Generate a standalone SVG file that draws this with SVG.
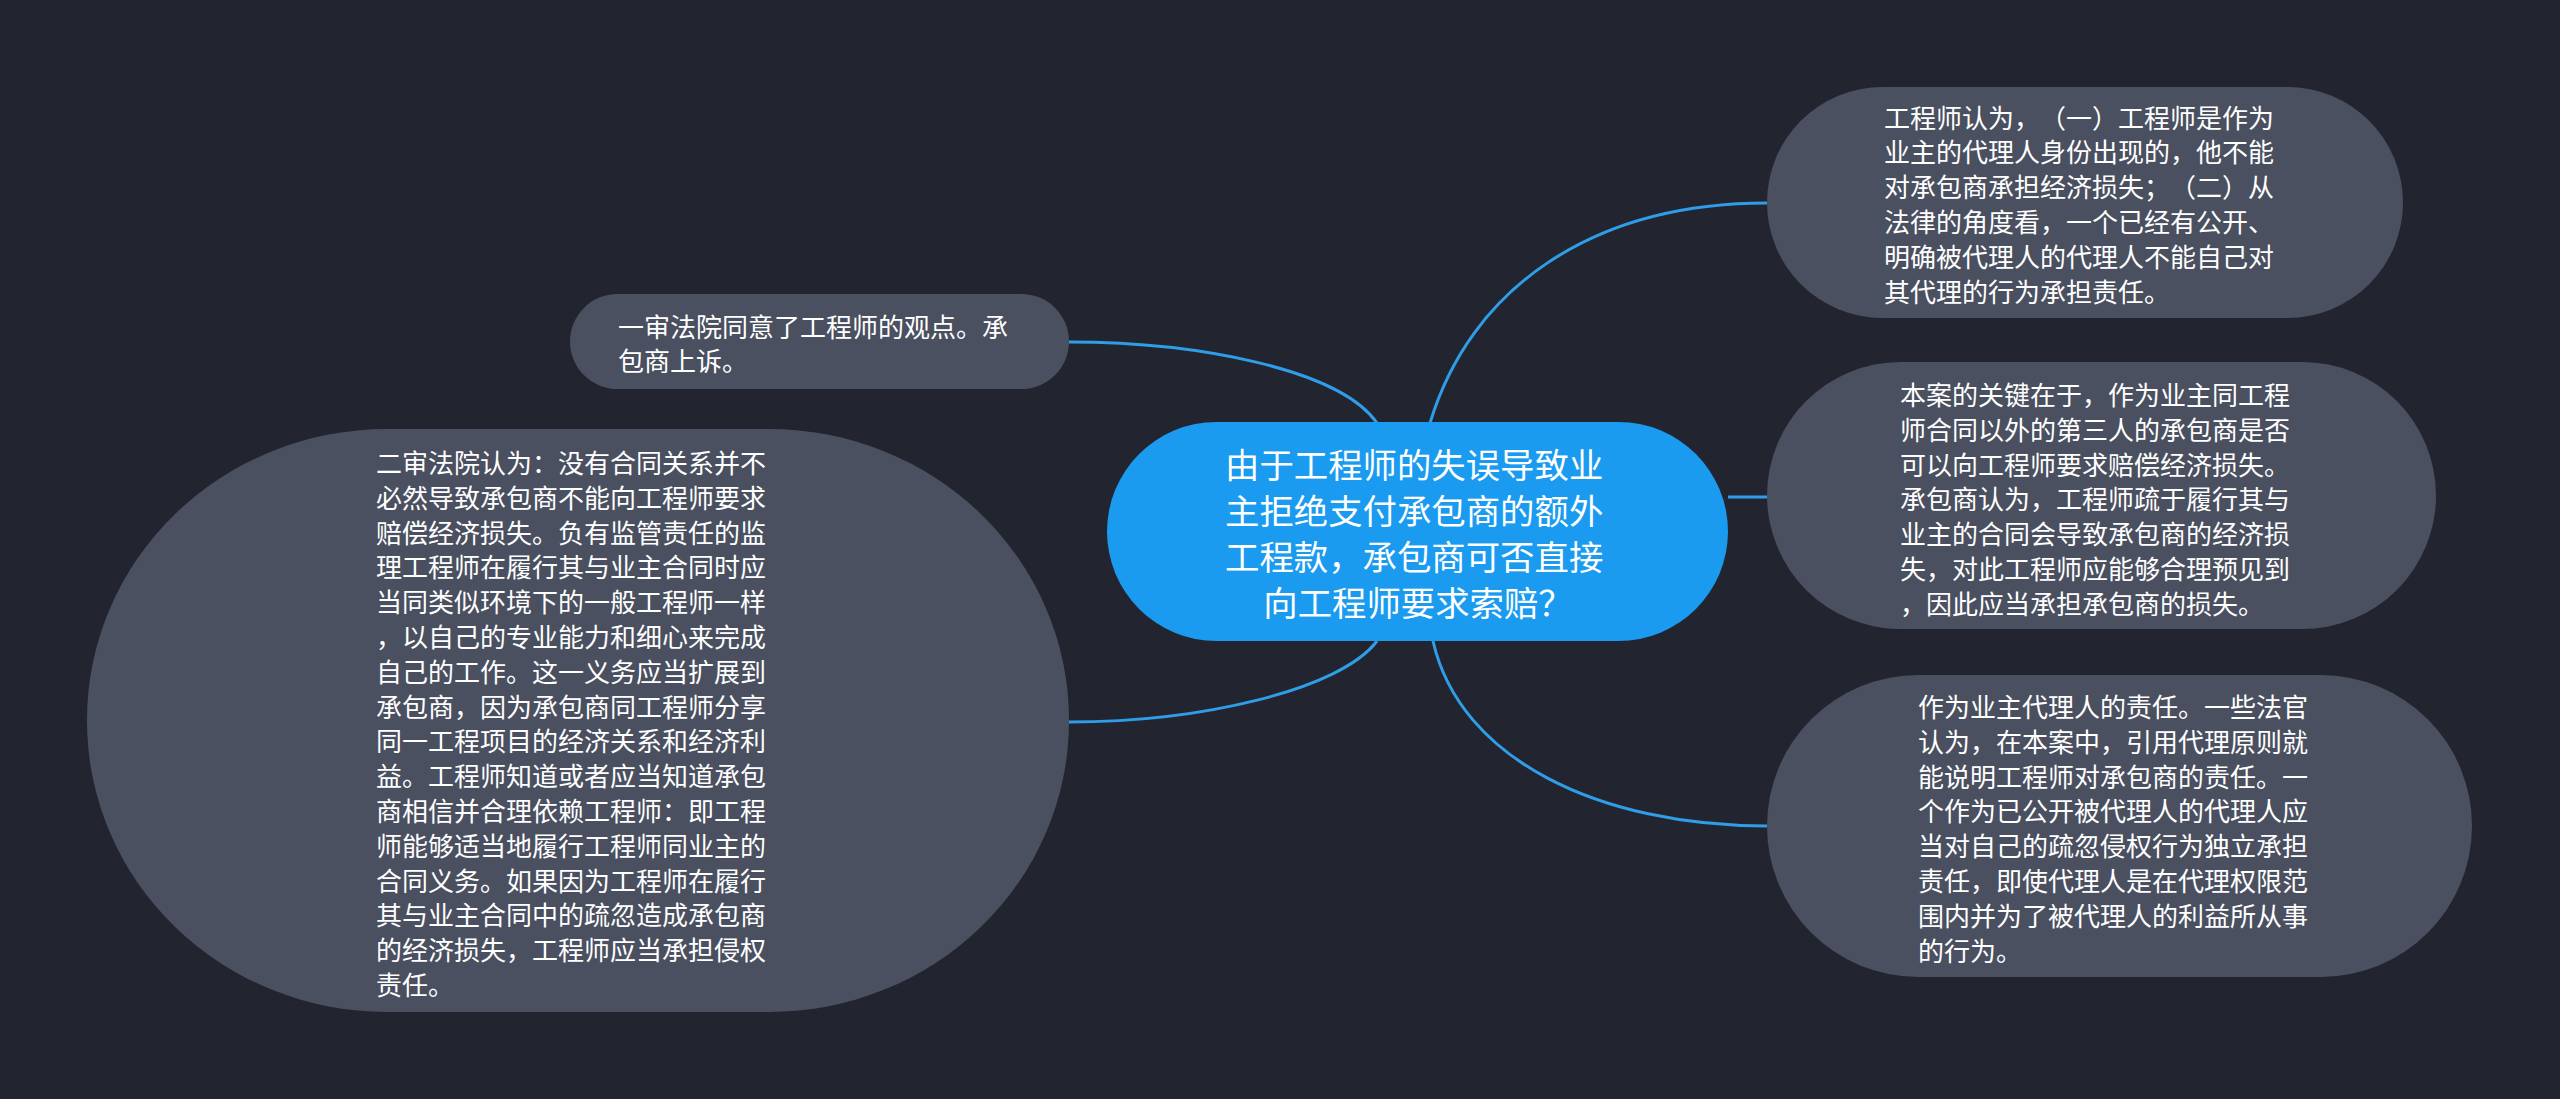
<svg xmlns="http://www.w3.org/2000/svg" width="2560" height="1099" viewBox="0 0 2560 1099">
<style>
.bg{fill:#222530}
.node{fill:#4a5060}
.root{fill:#1a9bf0}
.t{font-family:"Noto Sans CJK SC","Noto Sans",sans-serif;fill:#ffffff;font-size:26px;text-spacing-trim:space-all}
.rt{font-family:"Noto Sans CJK SC","Noto Sans",sans-serif;fill:#ffffff;font-size:34.4px;text-spacing-trim:space-all}
.edge{fill:none;stroke:#2f9de8;stroke-width:3}
</style>
<rect class="bg" x="0" y="0" width="2560" height="1099"/>
<g id="connectors">
<path class="edge" d="M1430,423 C1470,290 1590,203 1767,203"/>
<path class="edge" d="M1728,497 L1767,497"/>
<path class="edge" d="M1433,641 C1460,760 1600,826 1767,826"/>
<path class="edge" d="M1377,423 C1340,370 1200,342 1069,342"/>
<path class="edge" d="M1377,641 C1340,690 1200,722 1069,722"/>
</g>
<g id="root">
<rect class="root" x="1107" y="422" width="621" height="219" rx="109.5" ry="109.5"/>
<text class="rt" text-anchor="middle" x="1418" y="478">
<tspan x="1418" y="478">由于工程师的失误导致业</tspan>
<tspan x="1418" y="524">主拒绝支付承包商的额外</tspan>
<tspan x="1418" y="570">工程款，承包商可否直接</tspan>
<tspan x="1418" y="616">向工程师要求索赔？</tspan>
</text>
</g>
<g id="node-r1">
<rect class="node" x="1767" y="87" width="636" height="231" rx="115.5" ry="115.5"/>
<text class="t" x="1884" y="127.5">
<tspan x="1884" y="127.5">工程师认为，（一）工程师是作为</tspan>
<tspan x="1884" dy="34.8">业主的代理人身份出现的，他不能</tspan>
<tspan x="1884" dy="34.8">对承包商承担经济损失；（二）从</tspan>
<tspan x="1884" dy="34.8">法律的角度看，一个已经有公开、</tspan>
<tspan x="1884" dy="34.8">明确被代理人的代理人不能自己对</tspan>
<tspan x="1884" dy="34.8">其代理的行为承担责任。</tspan>
</text>
</g>
<g id="node-r2">
<rect class="node" x="1767" y="362" width="669" height="267" rx="133.5" ry="133.5"/>
<text class="t" x="1900" y="405">
<tspan x="1900" y="405">本案的关键在于，作为业主同工程</tspan>
<tspan x="1900" dy="34.8">师合同以外的第三人的承包商是否</tspan>
<tspan x="1900" dy="34.8">可以向工程师要求赔偿经济损失。</tspan>
<tspan x="1900" dy="34.8">承包商认为，工程师疏于履行其与</tspan>
<tspan x="1900" dy="34.8">业主的合同会导致承包商的经济损</tspan>
<tspan x="1900" dy="34.8">失，对此工程师应能够合理预见到</tspan>
<tspan x="1900" dy="34.8">，因此应当承担承包商的损失。</tspan>
</text>
</g>
<g id="node-r3">
<rect class="node" x="1767" y="675" width="705" height="302" rx="151" ry="151"/>
<text class="t" x="1918" y="717">
<tspan x="1918" y="717">作为业主代理人的责任。一些法官</tspan>
<tspan x="1918" dy="34.8">认为，在本案中，引用代理原则就</tspan>
<tspan x="1918" dy="34.8">能说明工程师对承包商的责任。一</tspan>
<tspan x="1918" dy="34.8">个作为已公开被代理人的代理人应</tspan>
<tspan x="1918" dy="34.8">当对自己的疏忽侵权行为独立承担</tspan>
<tspan x="1918" dy="34.8">责任，即使代理人是在代理权限范</tspan>
<tspan x="1918" dy="34.8">围内并为了被代理人的利益所从事</tspan>
<tspan x="1918" dy="34.8">的行为。</tspan>
</text>
</g>
<g id="node-l1">
<rect class="node" x="570" y="294" width="499" height="95" rx="47.5" ry="47.5"/>
<text class="t" x="618" y="337">
<tspan x="618" y="337">一审法院同意了工程师的观点。承</tspan>
<tspan x="618" dy="34">包商上诉。</tspan>
</text>
</g>
<g id="node-l2">
<rect class="node" x="87" y="429" width="982" height="583" rx="300" ry="291"/>
<text class="t" x="376" y="473">
<tspan x="376" y="473">二审法院认为：没有合同关系并不</tspan>
<tspan x="376" dy="34.8">必然导致承包商不能向工程师要求</tspan>
<tspan x="376" dy="34.8">赔偿经济损失。负有监管责任的监</tspan>
<tspan x="376" dy="34.8">理工程师在履行其与业主合同时应</tspan>
<tspan x="376" dy="34.8">当同类似环境下的一般工程师一样</tspan>
<tspan x="376" dy="34.8">，以自己的专业能力和细心来完成</tspan>
<tspan x="376" dy="34.8">自己的工作。这一义务应当扩展到</tspan>
<tspan x="376" dy="34.8">承包商，因为承包商同工程师分享</tspan>
<tspan x="376" dy="34.8">同一工程项目的经济关系和经济利</tspan>
<tspan x="376" dy="34.8">益。工程师知道或者应当知道承包</tspan>
<tspan x="376" dy="34.8">商相信并合理依赖工程师：即工程</tspan>
<tspan x="376" dy="34.8">师能够适当地履行工程师同业主的</tspan>
<tspan x="376" dy="34.8">合同义务。如果因为工程师在履行</tspan>
<tspan x="376" dy="34.8">其与业主合同中的疏忽造成承包商</tspan>
<tspan x="376" dy="34.8">的经济损失，工程师应当承担侵权</tspan>
<tspan x="376" dy="34.8">责任。</tspan>
</text>
</g>
</svg>
